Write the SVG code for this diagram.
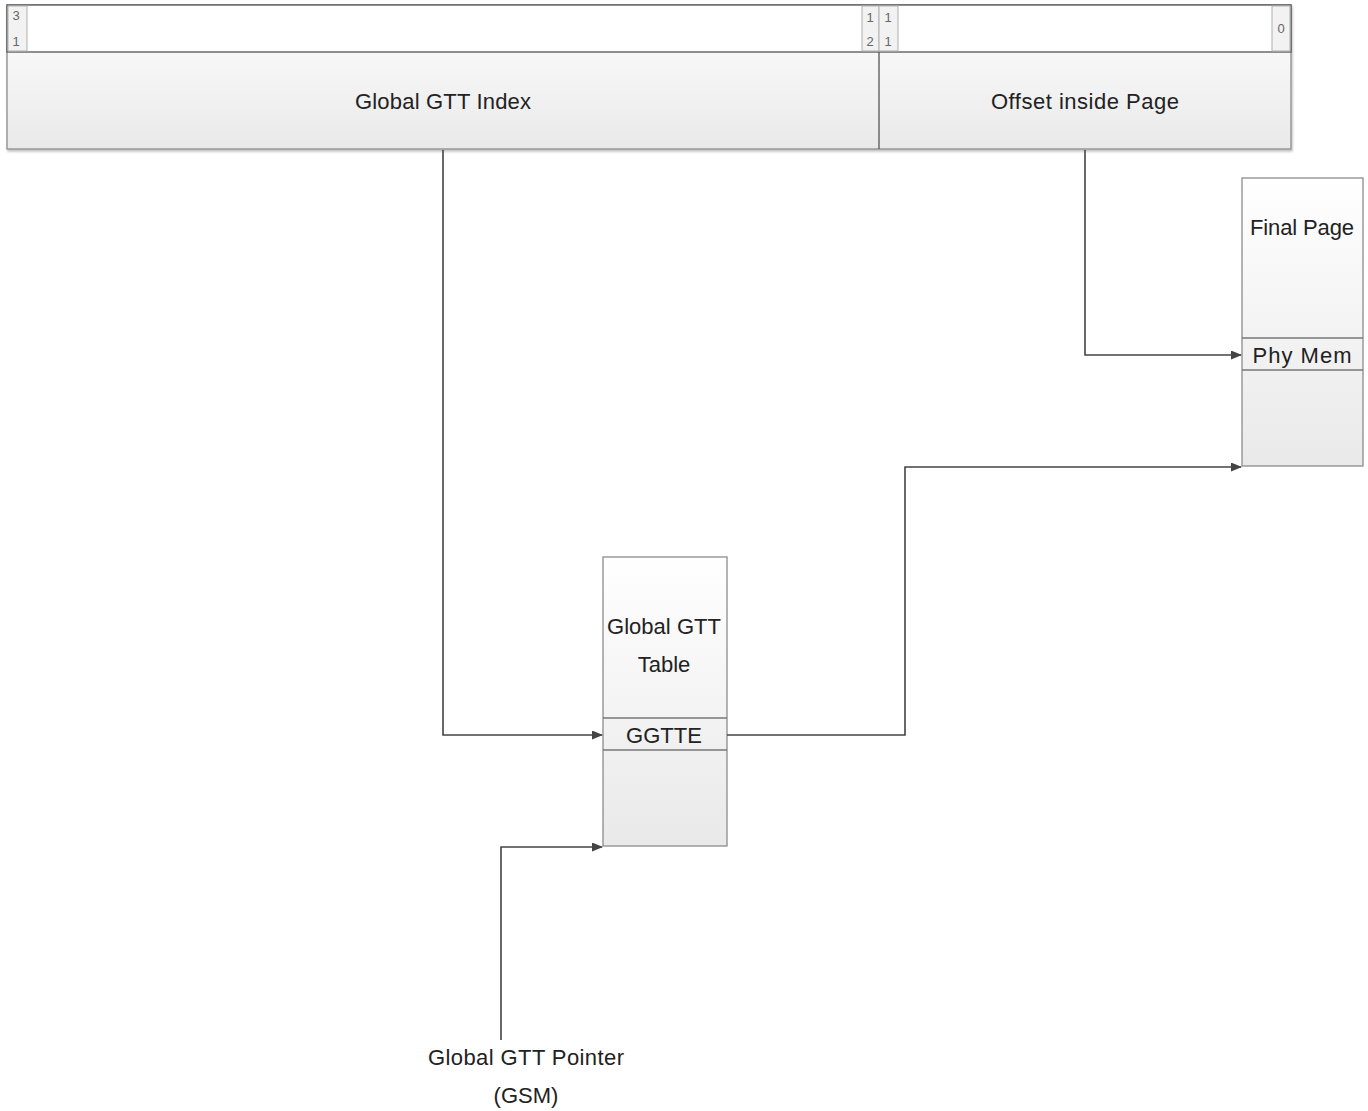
<svg xmlns="http://www.w3.org/2000/svg" width="1368" height="1111" viewBox="0 0 1368 1111">
<defs>
<linearGradient id="g" x1="0" y1="0" x2="0" y2="1">
<stop offset="0" stop-color="#ffffff"/>
<stop offset="1" stop-color="#e9e9e9"/>
</linearGradient>
<marker id="arr" markerWidth="11" markerHeight="9" refX="10" refY="4.5" orient="auto" markerUnits="userSpaceOnUse">
<path d="M0,0 L11,4.5 L0,9 Z" fill="#444"/>
</marker>
<filter id="sh" x="-5%" y="-5%" width="110%" height="115%">
<feDropShadow dx="1" dy="2" stdDeviation="1.2" flood-color="#000" flood-opacity="0.25"/>
</filter>
</defs>
<style>
.box{fill:url(#g);stroke:#8c8c8c;stroke-width:1.3}
.cell{fill:#fff;stroke:#555;stroke-width:1.3}
.bit{fill:#f2f2f2;stroke:#b0b0b0;stroke-width:1}
.t{font-family:"Liberation Sans",Arial,sans-serif;font-size:22px;fill:#222;text-anchor:middle}
.s{font-family:"Liberation Sans",Arial,sans-serif;font-size:13px;fill:#666;text-anchor:middle}
.c{fill:none;stroke:#444;stroke-width:1.6;marker-end:url(#arr)}
</style>
<g id="address">
<rect x="7" y="5" width="1284" height="144" class="box" filter="url(#sh)"/>
<rect x="7" y="5" width="1284" height="47" class="cell"/>
<line x1="879" y1="52" x2="879" y2="149" stroke="#555" stroke-width="1.3"/>
<rect x="8" y="6" width="19" height="45" class="bit"/>
<text x="16" y="20" class="s">3</text><text x="16" y="46" class="s">1</text>
<rect x="862" y="6" width="17" height="45" class="bit"/>
<text x="870" y="22" class="s">1</text><text x="870" y="46" class="s">2</text>
<rect x="879" y="6" width="19" height="45" class="bit"/>
<text x="888" y="22" class="s">1</text><text x="888" y="46" class="s">1</text>
<rect x="1272" y="6" width="18" height="45" class="bit"/>
<text x="1281" y="33" class="s">0</text>
<text x="443" y="109" class="t" textLength="176">Global GTT Index</text>
<text x="1085" y="109" class="t" textLength="188">Offset inside Page</text>
</g>
<g id="finalpage">
<rect x="1242" y="178" width="121" height="288" class="box"/>
<line x1="1242" y1="338" x2="1363" y2="338" stroke="#777" stroke-width="1.3"/>
<line x1="1242" y1="370" x2="1363" y2="370" stroke="#777" stroke-width="1.3"/>
<text x="1302" y="235" class="t" textLength="104">Final Page</text>
<text x="1302" y="363" class="t" textLength="99">Phy Mem</text>
</g>
<g id="ggtt">
<rect x="603" y="557" width="124" height="289" class="box"/>
<line x1="603" y1="718" x2="727" y2="718" stroke="#777" stroke-width="1.3"/>
<line x1="603" y1="750" x2="727" y2="750" stroke="#777" stroke-width="1.3"/>
<text x="664" y="634" class="t" textLength="114">Global GTT</text>
<text x="664" y="672" class="t">Table</text>
<text x="664" y="743" class="t">GGTTE</text>
</g>
<g id="pointer">
<text x="526" y="1065" class="t" textLength="196">Global GTT Pointer</text>
<text x="526" y="1103" class="t">(GSM)</text>
</g>
<g id="connectors">
<path d="M501,1040 V847 H602" class="c"/>
<path d="M443,150 V735 H602" class="c"/>
<path d="M1085,150 V355 H1241" class="c"/>
<path d="M727,735 H905 V467 H1241" class="c"/>
</g>
</svg>
